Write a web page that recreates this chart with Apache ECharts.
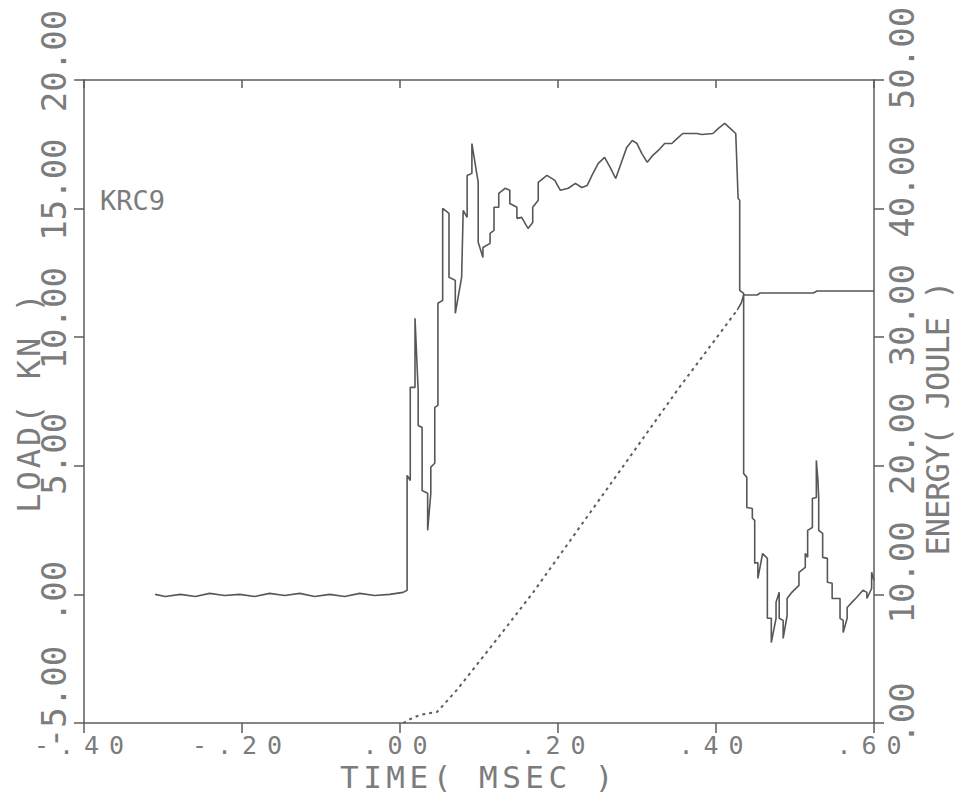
<!DOCTYPE html>
<html><head><meta charset="utf-8">
<script src="https://cdn.jsdelivr.net/npm/echarts@6/dist/echarts.min.js"></script>
<style>
html,body{margin:0;padding:0;background:#fff;}
#c{width:956px;height:798px;}
text[style*="zzxt"]{letter-spacing:10px;}
text[style*="zzxn"]{letter-spacing:4.5px;}
text[style*="zzln"]{letter-spacing:3px;}
text[style*="zzen"]{letter-spacing:-1px;}
</style></head><body><div id="c"></div>
<script>
// ---------------- data ----------------
const xTickLabels = ['-.40', '-.20', '.00', '.20', '.40', '.60'];
const loadTickLabels = ['-5.00', '.00', '5.00', '10.00', '15.00', '20.00'];
const energyTickLabels = ['.00', '10.00', '20.00', '30.00', '40.00', '50.00'];

const loadTime = [
  -0.310, -0.297, -0.278, -0.259, -0.241, -0.222, -0.203, -0.184, -0.165, -0.146,
  -0.127, -0.108, -0.089, -0.070, -0.051, -0.032, -0.013, 0.004,
  0.009, 0.009, 0.013, 0.013, 0.019, 0.019, 0.023, 0.023, 0.028, 0.028,
  0.035, 0.035, 0.039, 0.039, 0.044, 0.044, 0.048, 0.048, 0.054, 0.054,
  0.062, 0.062, 0.070, 0.070, 0.078, 0.080, 0.085, 0.085, 0.091, 0.091,
  0.099, 0.099, 0.105, 0.105, 0.114, 0.114, 0.119, 0.119, 0.125, 0.125,
  0.133, 0.139, 0.139, 0.148, 0.148, 0.154, 0.162, 0.168, 0.168, 0.175, 0.175,
  0.186, 0.196, 0.203, 0.213, 0.222, 0.230, 0.237, 0.243, 0.251, 0.259,
  0.266, 0.273, 0.278, 0.282, 0.287, 0.294, 0.300, 0.306, 0.313, 0.320,
  0.327, 0.335, 0.344, 0.351, 0.358, 0.376, 0.382, 0.396, 0.403, 0.411,
  0.418, 0.425, 0.428, 0.430, 0.430, 0.435, 0.435,
  0.439, 0.439, 0.446, 0.446, 0.449, 0.449, 0.453, 0.453, 0.459, 0.465, 0.465,
  0.470, 0.470, 0.476, 0.476, 0.480, 0.480, 0.485, 0.485, 0.490, 0.490,
  0.496, 0.505, 0.505, 0.513, 0.513, 0.516, 0.516, 0.522, 0.522, 0.527, 0.527,
  0.529, 0.530, 0.530, 0.535, 0.535, 0.541, 0.541, 0.547, 0.547, 0.554,
  0.557, 0.557, 0.561, 0.561, 0.566, 0.566, 0.572, 0.578, 0.586, 0.591, 0.591,
  0.597, 0.597, 0.600
];
const loadValues = [
  0.00, -0.08, 0.00, -0.08, 0.04, -0.04, 0.00, -0.08, 0.04, -0.04,
  0.04, -0.08, 0.00, -0.08, 0.04, -0.04, 0.00, 0.08,
  0.16, 4.63, 4.43, 8.05, 8.05, 10.74, 7.93, 6.57, 6.49, 4.04,
  3.93, 2.49, 3.93, 4.95, 5.10, 7.27, 7.35, 11.32, 11.43, 15.01,
  14.81, 12.33, 12.21, 10.93, 12.33, 14.93, 14.66, 16.29, 16.37, 17.53,
  16.02, 13.69, 13.10, 13.49, 13.65, 14.04, 14.15, 15.05, 15.05, 15.59,
  15.79, 15.71, 15.20, 15.05, 14.62, 14.66, 14.23, 14.46, 15.05, 15.32, 16.02,
  16.29, 16.10, 15.71, 15.79, 15.98, 15.82, 15.90, 16.29, 16.76, 16.99,
  16.60, 16.17, 16.60, 16.95, 17.38, 17.65, 17.53, 17.15, 16.80, 17.07,
  17.26, 17.53, 17.53, 17.73, 17.92, 17.92, 17.88, 17.92, 18.12, 18.31,
  18.12, 17.92, 15.40, 15.32, 11.82, 11.70, 4.70,
  4.55, 3.38, 3.34, 2.96, 2.88, 1.21, 1.24, 0.62, 1.59, 1.40, -0.93,
  -0.93, -1.87, -0.93, -0.31, 0.08, -0.93, -1.01, -1.71, -0.82, -0.16,
  0.08, 0.35, 0.86, 1.05, 1.59, 1.44, 2.49, 2.60, 3.73, 3.77, 5.21,
  4.43, 3.77, 2.49, 2.37, 1.44, 1.40, 0.47, 0.43, -0.16, -0.16,
  -0.16, -0.93, -1.01, -1.48, -0.93, -0.51, -0.31, -0.12, 0.16, 0.08, -0.16,
  0.23, 0.86, 0.54
];

const energyTime = [0.004, 0.013, 0.025, 0.047, 0.072, 0.120, 0.168, 0.253, 0.354, 0.392,
  0.427, 0.432, 0.435, 0.452, 0.456, 0.523, 0.528, 0.600];
const energyValues = [0.00, 0.31, 0.62, 0.86, 2.57, 6.30, 10.11, 17.42, 26.13, 29.24,
  32.12, 32.66, 33.28, 33.28, 33.44, 33.44, 33.59, 33.59];
const energyDottedEnd = 10; // last index drawn dotted (rising part)

// ---------------- styling ----------------
const FONT = "'DejaVu Sans Mono'";
const TXT = '#7c7c7c';
const AX = '#5c5c5c';
const X_MIN = -0.4, X_MAX = 0.6, X_STEP = 0.2;
const L_MIN = -5, L_MAX = 20, L_STEP = 5;
const E_MIN = 0, E_MAX = 50, E_STEP = 10;

function idx(v, min, step) { return Math.round((v - min) / step); }

const padWidths = [6, 20, 24, 38, 44, 52];
const yRich = { v: { fontFamily: FONT, fontSize: 34, color: TXT } };
padWidths.forEach(w => { yRich['p' + w] = { width: w, height: 2 }; });
function loadLift(lab) { return lab.length === 5 ? (lab[0] === '-' ? 52 : 38) : (lab.length === 4 ? 24 : 6); }
function energyLift(lab) { return lab.length === 5 ? 44 : 20; }

const axisLine = { show: true, onZero: false, lineStyle: { color: AX, width: 1.5 } };
const axisTick = { show: true, length: 10, lineStyle: { color: AX, width: 1.5 } };

const chart = echarts.init(document.getElementById('c'), null, { renderer: 'svg', width: 956, height: 798 });

const option = {
  animation: false,
  backgroundColor: '#ffffff',
  title: {
    text: 'KRC9', left: 95, top: 182,
    textStyle: { fontFamily: FONT + ', zzkr', fontSize: 27, fontWeight: 'normal', color: TXT }
  },
  grid: { left: 84, right: 82, top: 80, bottom: 75, containLabel: false, outerBoundsMode: 'none' },
  xAxis: [
    {
      type: 'value', position: 'bottom', min: X_MIN, max: X_MAX, interval: X_STEP,
      axisLine: axisLine, axisTick: axisTick, splitLine: { show: false },
      axisLabel: {
        margin: 10,
        fontFamily: FONT + ', zzxt', fontSize: 25, color: TXT,
        formatter: v => xTickLabels[idx(v, X_MIN, X_STEP)]
      },
      name: 'TIME( MSEC )', nameLocation: 'middle', nameGap: 38, nameMoveOverlap: false,
      nameTextStyle: { fontFamily: FONT + ', zzxn', fontSize: 31, color: TXT }
    },
    {
      type: 'value', position: 'top', min: X_MIN, max: X_MAX, interval: X_STEP,
      axisLine: axisLine,
      axisTick: { show: true, inside: true, length: 8, lineStyle: { color: AX, width: 1.5 } },
      axisLabel: { show: false }, splitLine: { show: false }
    }
  ],
  yAxis: [
    {
      type: 'value', position: 'left', min: L_MIN, max: L_MAX, interval: L_STEP,
      axisLine: axisLine, axisTick: axisTick, splitLine: { show: false },
      axisLabel: {
        rotate: 90, margin: 30, align: 'center', verticalAlign: 'middle',
        formatter: v => { const lab = loadTickLabels[idx(v, L_MIN, L_STEP)]; return '{p' + loadLift(lab) + '|}{v|' + lab + '}'; },
        rich: yRich
      },
      name: 'LOAD( KN )', nameLocation: 'middle', nameRotate: 90, nameGap: 55, nameMoveOverlap: false,
      nameTextStyle: { fontFamily: FONT + ', zzln', fontSize: 32, color: TXT, align: 'center', verticalAlign: 'middle' }
    },
    {
      type: 'value', position: 'right', min: E_MIN, max: E_MAX, interval: E_STEP,
      axisLine: axisLine, axisTick: axisTick, splitLine: { show: false },
      axisLabel: {
        rotate: 90, margin: 28, align: 'center', verticalAlign: 'middle',
        formatter: v => { const lab = energyTickLabels[idx(v, E_MIN, E_STEP)]; return '{p' + energyLift(lab) + '|}{v|' + lab + '}'; },
        rich: yRich
      },
      name: 'ENERGY( JOULE )', nameLocation: 'middle', nameRotate: 90, nameGap: 64, nameMoveOverlap: false,
      nameTextStyle: { fontFamily: FONT + ', zzen', fontSize: 32, color: TXT, align: 'center', verticalAlign: 'middle', padding: [0, 34, 0, 0] }
    }
  ],
  series: [
    {
      name: 'LOAD', type: 'line', xAxisIndex: 0, yAxisIndex: 0, symbol: 'none', showSymbol: false,
      lineStyle: { color: '#575757', width: 1.6 },
      data: loadTime.map((t, i) => [t, loadValues[i]])
    },
    {
      name: 'ENERGY', type: 'line', xAxisIndex: 0, yAxisIndex: 1, symbol: 'none', showSymbol: false,
      lineStyle: { color: '#5e5e5e', width: 2, type: [3, 4] },
      data: energyTime.slice(0, energyDottedEnd + 1).map((t, i) => [t, energyValues[i]])
    },
    {
      name: 'ENERGY', type: 'line', xAxisIndex: 0, yAxisIndex: 1, symbol: 'none', showSymbol: false,
      lineStyle: { color: '#575757', width: 1.6 },
      data: energyTime.slice(energyDottedEnd).map((t, i) => [t, energyValues[i + energyDottedEnd]])
    }
  ]
};
chart.setOption(option);
</script></body></html>
